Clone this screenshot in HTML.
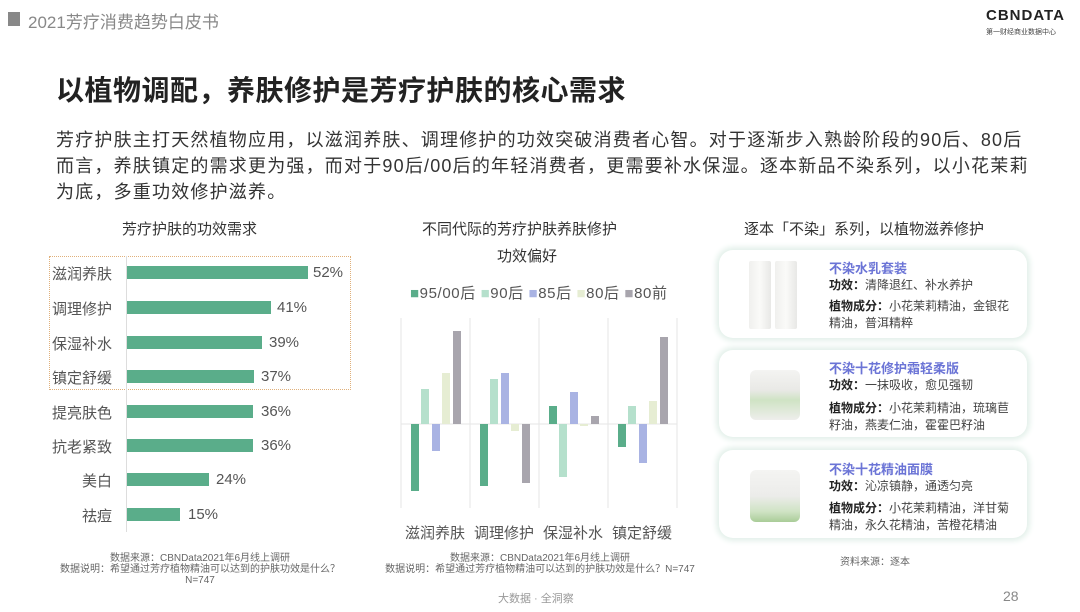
<!DOCTYPE html>
<html><head><meta charset="utf-8"><style>
*{margin:0;padding:0;box-sizing:border-box}
body{width:1080px;height:612px;background:#fff;position:relative;overflow:hidden;font-family:"Liberation Sans","Noto Sans CJK SC",sans-serif;color:#333}
.a{position:absolute;white-space:nowrap}
.lab{position:absolute;right:968px;font-size:15px;color:#555;text-align:right}
.bar{position:absolute;left:127px;height:13px;background:#5aad8a}
.pct{position:absolute;font-size:15px;color:#555}
.card{position:absolute;left:719px;width:308px;border-radius:14px;background:#fff;box-shadow:0 0 6px 3px #e3f0ea}
.ct{position:absolute;left:110px;font-size:13px;font-weight:bold;color:#6b74d6}
.cl{position:absolute;left:110px;font-size:12px;color:#444;line-height:17px;white-space:normal;width:192px}
.cl b{color:#222}
.jar{position:absolute;border-radius:6px;background:linear-gradient(#f4f4f2,#e9e9e6 40%,#cfe3c4 60%,#eeeeec)}
.cat{position:absolute;top:522px;width:70px;text-align:center;font-size:15px;color:#555}
</style></head><body>
<div class="a" style="left:8px;top:12px;width:12px;height:14px;background:#888"></div>
<div class="a" style="left:28px;top:8px;font-size:17px;color:#888">2021芳疗消费趋势白皮书</div>
<div class="a" style="left:986px;top:7px;font-size:15px;font-weight:bold;color:#222;letter-spacing:1px">CBNDATA</div>
<div class="a" style="left:986px;top:27px;font-size:7px;color:#444">第一财经商业数据中心</div>
<div class="a" style="left:56px;top:69px;font-size:28px;letter-spacing:0.5px;font-weight:bold;color:#222">以植物调配，养肤修护是芳疗护肤的核心需求</div>
<div class="a" style="left:56px;top:127px;font-size:18px;line-height:26px;color:#333;letter-spacing:1.2px">芳疗护肤主打天然植物应用，以滋润养肤、调理修护的功效突破消费者心智。对于逐渐步入熟龄阶段的90后、80后<br>而言，养肤镇定的需求更为强，而对于90后/00后的年轻消费者，更需要补水保湿。逐本新品不染系列，以小花茉莉<br>为底，多重功效修护滋养。</div>

<div class="a" style="left:122px;top:218px;font-size:15px;color:#333">芳疗护肤的功效需求</div>
<div class="a" style="left:49px;top:256px;width:302px;height:134px;border:1px dotted #e0b07a"></div>
<div class="a" style="left:126px;top:256px;width:1px;height:276px;background:#ddd"></div>
<div class="lab" style="top:263px">滋润养肤</div><div class="bar" style="top:266px;width:181px"></div><div class="pct" style="left:313px;top:264px">52%</div>
<div class="lab" style="top:298px">调理修护</div><div class="bar" style="top:301px;width:144px"></div><div class="pct" style="left:277px;top:299px">41%</div>
<div class="lab" style="top:333px">保湿补水</div><div class="bar" style="top:336px;width:135px"></div><div class="pct" style="left:269px;top:334px">39%</div>
<div class="lab" style="top:367px">镇定舒缓</div><div class="bar" style="top:370px;width:127px"></div><div class="pct" style="left:261px;top:368px">37%</div>
<div class="lab" style="top:402px">提亮肤色</div><div class="bar" style="top:405px;width:126px"></div><div class="pct" style="left:261px;top:403px">36%</div>
<div class="lab" style="top:436px">抗老紧致</div><div class="bar" style="top:439px;width:126px"></div><div class="pct" style="left:261px;top:437px">36%</div>
<div class="lab" style="top:470px">美白</div><div class="bar" style="top:473px;width:82px"></div><div class="pct" style="left:216px;top:471px">24%</div>
<div class="lab" style="top:505px">祛痘</div><div class="bar" style="top:508px;width:53px"></div><div class="pct" style="left:188px;top:506px">15%</div>
<div class="a" style="left:60px;top:553px;width:280px;text-align:center;font-size:10px;line-height:11px;color:#666;white-space:normal">数据来源：CBNData2021年6月线上调研<br>数据说明：希望通过芳疗植物精油可以达到的护肤功效是什么？N=747</div>

<div class="a" style="left:422px;top:218px;font-size:15px;color:#333">不同代际的芳疗护肤养肤修护</div>
<div class="a" style="left:497px;top:245px;font-size:15px;color:#333">功效偏好</div>
<div class="a" style="left:410px;top:282px;font-size:15px;color:#555;letter-spacing:0.6px"><span style="color:#5aad8a">■</span>95/00后 <span style="color:#b5e0cc">■</span>90后 <span style="color:#a9b3e3">■</span>85后 <span style="color:#e6edd3">■</span>80后 <span style="color:#a8a5ad">■</span>80前</div>
<svg class="a" style="left:0;top:0" width="1080" height="612">
<g stroke="#e6e6e6" stroke-width="1">
<line x1="401" y1="318" x2="401" y2="508"/><line x1="470" y1="318" x2="470" y2="508"/><line x1="539" y1="318" x2="539" y2="508"/><line x1="608" y1="318" x2="608" y2="508"/><line x1="677" y1="318" x2="677" y2="508"/>
<line x1="401" y1="424" x2="677" y2="424"/></g>
<g>
<rect x="411" y="424" width="8" height="67" fill="#5aad8a"/><rect x="421" y="389" width="8" height="35" fill="#b5e0cc"/><rect x="432" y="424" width="8" height="27" fill="#a9b3e3"/><rect x="442" y="373" width="8" height="51" fill="#e6edd3"/><rect x="453" y="331" width="8" height="93" fill="#a8a5ad"/>
<rect x="480" y="424" width="8" height="62" fill="#5aad8a"/><rect x="490" y="379" width="8" height="45" fill="#b5e0cc"/><rect x="501" y="373" width="8" height="51" fill="#a9b3e3"/><rect x="511" y="424" width="8" height="7" fill="#e6edd3"/><rect x="522" y="424" width="8" height="59" fill="#a8a5ad"/>
<rect x="549" y="406" width="8" height="18" fill="#5aad8a"/><rect x="559" y="424" width="8" height="53" fill="#b5e0cc"/><rect x="570" y="392" width="8" height="32" fill="#a9b3e3"/><rect x="580" y="424" width="8" height="2" fill="#e6edd3"/><rect x="591" y="416" width="8" height="8" fill="#a8a5ad"/>
<rect x="618" y="424" width="8" height="23" fill="#5aad8a"/><rect x="628" y="406" width="8" height="18" fill="#b5e0cc"/><rect x="639" y="424" width="8" height="39" fill="#a9b3e3"/><rect x="649" y="401" width="8" height="23" fill="#e6edd3"/><rect x="660" y="337" width="8" height="87" fill="#a8a5ad"/>
</g></svg>
<div class="cat" style="left:400px">滋润养肤</div>
<div class="cat" style="left:469px">调理修护</div>
<div class="cat" style="left:538px">保湿补水</div>
<div class="cat" style="left:607px">镇定舒缓</div>
<div class="a" style="left:370px;top:553px;width:340px;text-align:center;font-size:10px;line-height:11px;color:#666">数据来源：CBNData2021年6月线上调研<br>数据说明：希望通过芳疗植物精油可以达到的护肤功效是什么？N=747</div>

<div class="a" style="left:744px;top:218px;font-size:15px;color:#333">逐本「不染」系列，以植物滋养修护</div>
<div class="card" style="top:250px;height:88px">
<div class="a" style="left:30px;top:11px;width:22px;height:68px;background:linear-gradient(90deg,#f0f0ee,#fafaf8,#e8e8e6);border-radius:2px"></div>
<div class="a" style="left:56px;top:11px;width:22px;height:68px;background:linear-gradient(90deg,#f0f0ee,#fafaf8,#e8e8e6);border-radius:2px"></div>
<div class="ct" style="top:8px">不染水乳套装</div>
<div class="cl" style="top:27px"><b>功效：</b>清降退红、补水养护</div>
<div class="cl" style="top:48px"><b>植物成分：</b>小花茉莉精油，金银花精油，普洱精粹</div>
</div>
<div class="card" style="top:350px;height:87px">
<div class="jar" style="left:31px;top:20px;width:50px;height:50px"></div>
<div class="ct" style="top:8px">不染十花修护霜轻柔版</div>
<div class="cl" style="top:27px"><b>功效：</b>一抹吸收，愈见强韧</div>
<div class="cl" style="top:50px"><b>植物成分：</b>小花茉莉精油，琉璃苣籽油，燕麦仁油，霍霍巴籽油</div>
</div>
<div class="card" style="top:450px;height:88px">
<div class="jar" style="left:31px;top:20px;width:50px;height:52px;background:linear-gradient(#f4f4f2,#ececea 50%,#cfe3c4 80%,#a9cc98)"></div>
<div class="ct" style="top:9px">不染十花精油面膜</div>
<div class="cl" style="top:28px"><b>功效：</b>沁凉镇静，通透匀亮</div>
<div class="cl" style="top:50px"><b>植物成分：</b>小花茉莉精油，洋甘菊精油，永久花精油，苦橙花精油</div>
</div>
<div class="a" style="left:840px;top:553px;font-size:10px;color:#666">资料来源：逐本</div>
<div class="a" style="left:498px;top:590px;font-size:11px;color:#999">大数据 · 全洞察</div>
<div class="a" style="left:1003px;top:588px;font-size:14px;color:#888">28</div>
</body></html>
